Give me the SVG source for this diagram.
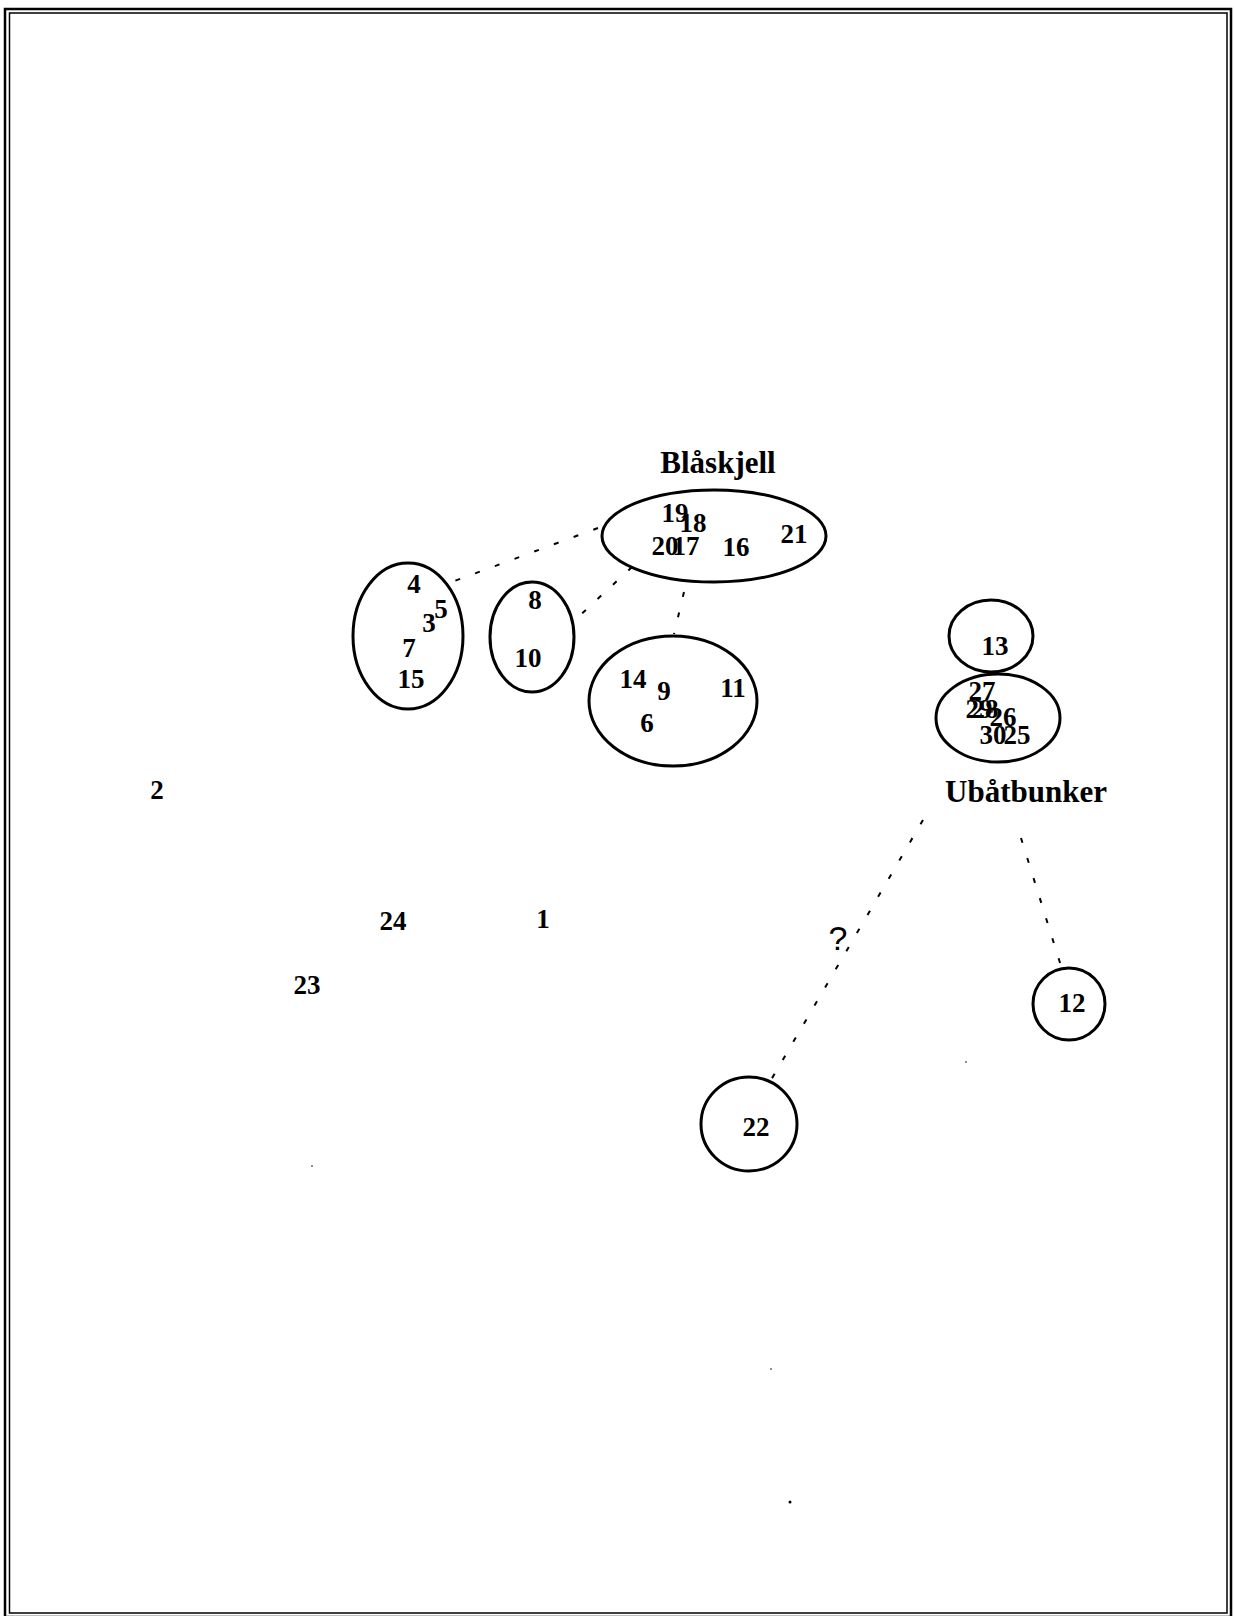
<svg xmlns="http://www.w3.org/2000/svg" width="1234" height="1616" viewBox="0 0 1234 1616">
<style>
.n{font-family:"Liberation Serif","Times New Roman",serif;font-weight:bold;font-size:27px;text-anchor:middle;fill:#000}
.t{font-family:"Liberation Serif","Times New Roman",serif;font-weight:bold;font-size:31px;text-anchor:middle;fill:#000}
.q{font-family:"Liberation Sans",Arial,sans-serif;font-size:34px;text-anchor:middle;fill:#000}
.e{fill:none;stroke:#000;stroke-width:3}
.d{fill:none;stroke:#000;stroke-width:2;stroke-dasharray:5 16}
</style>
<rect width="1234" height="1616" fill="#fff"/>
<rect x="5" y="9" width="1226" height="1608" fill="none" stroke="#000" stroke-width="2.5"/>
<rect x="9.5" y="13" width="1217.5" height="1600" fill="none" stroke="#000" stroke-width="1.5"/>
<g id="connectors">
<line class="d" x1="598" y1="528" x2="449" y2="583"/>
<line class="d" x1="632" y1="567" x2="575" y2="620"/>
<line class="d" x1="684" y1="592" x2="674" y2="634"/>
<line class="d" x1="923" y1="820" x2="771" y2="1080"/>
<line class="d" x1="1021" y1="838" x2="1061" y2="966"/>
<text class="q" x="838" y="950">?</text>
</g>
<g id="blaskjell">
<text class="t" x="718" y="473">Blåskjell</text>
<ellipse class="e" cx="714" cy="536" rx="112" ry="46"/>
<text class="n" x="675" y="522">19</text>
<text class="n" x="693" y="532">18</text>
<text class="n" x="665" y="555">20</text>
<text class="n" x="686" y="555">17</text>
<text class="n" x="736" y="556">16</text>
<text class="n" x="794" y="543">21</text>
</g>
<g id="group-left">
<ellipse class="e" cx="408" cy="636" rx="55" ry="73"/>
<text class="n" x="414" y="593">4</text>
<text class="n" x="441" y="618">5</text>
<text class="n" x="429" y="632">3</text>
<text class="n" x="409" y="657">7</text>
<text class="n" x="411" y="688">15</text>
</g>
<g id="group-mid">
<ellipse class="e" cx="532" cy="637" rx="42" ry="55"/>
<text class="n" x="535" y="609">8</text>
<text class="n" x="528" y="667">10</text>
</g>
<g id="group-lower">
<ellipse class="e" cx="673" cy="701" rx="84" ry="65"/>
<text class="n" x="633" y="688">14</text>
<text class="n" x="664" y="700">9</text>
<text class="n" x="733" y="697">11</text>
<text class="n" x="647" y="732">6</text>
</g>
<g id="node13">
<ellipse class="e" cx="991" cy="636" rx="42" ry="36"/>
<text class="n" x="995" y="655">13</text>
</g>
<g id="ubatbunker">
<ellipse class="e" cx="998" cy="718" rx="62" ry="44"/>
<text class="n" x="982" y="700">27</text>
<text class="n" x="979" y="718">29</text>
<text class="n" x="985" y="718">28</text>
<text class="n" x="1003" y="726">26</text>
<text class="n" x="993" y="744">30</text>
<text class="n" x="1017" y="744">25</text>
<text class="t" x="1026" y="802">Ubåtbunker</text>
</g>
<g id="node12">
<circle class="e" cx="1069" cy="1004" r="36"/>
<text class="n" x="1072" y="1012">12</text>
</g>
<g id="node22">
<ellipse class="e" cx="749" cy="1124" rx="48" ry="47"/>
<text class="n" x="756" y="1136">22</text>
</g>
<g id="node2"><text class="n" x="157" y="799">2</text></g>
<g id="node24"><text class="n" x="393" y="930">24</text></g>
<g id="node1"><text class="n" x="543" y="928">1</text></g>
<g id="node23"><text class="n" x="307" y="994">23</text></g>
<g id="specks" fill="#000">
<circle cx="966" cy="1062" r="0.8"/>
<circle cx="312" cy="1166" r="0.8"/>
<circle cx="771" cy="1369" r="0.8"/>
<circle cx="790" cy="1502" r="1.5"/>
</g>
</svg>
